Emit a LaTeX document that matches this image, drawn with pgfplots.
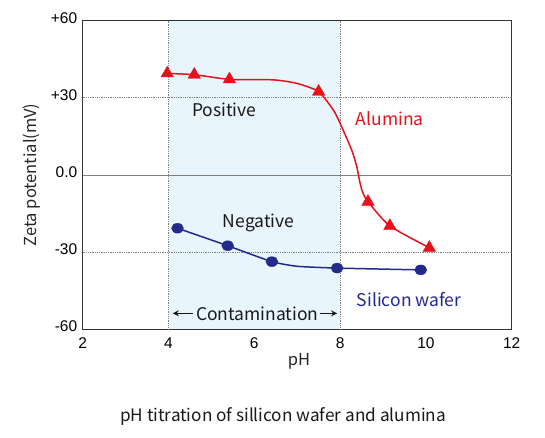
\documentclass[border=0pt]{standalone}
\usepackage{pgfplots}
\pgfplotsset{compat=1.18}
\usepackage{fontspec}
\setmainfont{Noto Sans CJK JP}
\newfontfamily\tickfont{Liberation Sans}
\usetikzlibrary{arrows.meta}
\definecolor{alred}{HTML}{E8101A}
\definecolor{sinavy}{HTML}{222A8C}
\definecolor{shade}{HTML}{E9F5FC}
\definecolor{gridc}{HTML}{808080}
\begin{document}
\begin{tikzpicture}
\useasboundingbox (0,0) rectangle (545bp,438bp);
\begin{axis}[at={(82.7bp,108.7bp)}, anchor=south west, scale only axis,
  width=429bp, height=308.6bp,
  xmin=2, xmax=12, ymin=-60, ymax=60,
  xtick={2,4,6,8,10,12}, ytick={-60,-30,0,30,60},
  yticklabels={-60,-30,0.0,+30,+60},
  major tick length=0pt, tick style={draw=none},
  axis line style={draw=black!80, line width=1.1pt},
  /pgf/number format/assume math mode=true,
  tick label style={font=\tickfont\fontsize{15.5bp}{15.5bp}\selectfont, text=black},
  xticklabel style={yshift=-5bp},
  yticklabel style={xshift=-2bp, yshift=3bp},
  xlabel={pH}, ylabel={Zeta potential(mV)},
  label style={font=\fontsize{16.5bp}{16.5bp}\selectfont, text=black!85},
  xlabel style={at={(axis description cs:0.504,-0.105)}, anchor=center},
  ylabel style={at={(axis description cs:-0.118,0.5)}, anchor=center},
  clip=false,
]
% shaded contamination band
\addplot[fill=shade, draw=none] coordinates {(4,-60) (4,60) (8,60) (8,-60)} -- cycle;
% grid lines
\addplot[gridc, densely dotted, line width=0.8pt] coordinates {(2,30) (12,30)};
\addplot[gridc, densely dotted, line width=0.8pt] coordinates {(2,-30) (12,-30)};
\addplot[gridc, line width=0.8pt] coordinates {(2,0) (12,0)};
\addplot[gridc, densely dotted, line width=0.8pt] coordinates {(4,-60) (4,60)};
\addplot[gridc, densely dotted, line width=0.8pt] coordinates {(8,-60) (8,60)};
% Alumina curve
\addplot[alred, line width=1.5pt, smooth, tension=0.4] coordinates {
 (3.97,39.5) (4.6,39) (5.42,37.2) (6.44,37) (7.0,35.6) (7.5,32.4) (7.84,25.3)
 (8.0,20.1) (8.27,9.7) (8.39,3.2) (8.45,-2) (8.52,-6.5) (8.65,-10.4)
 (9.16,-19.8) (10.08,-28.3)};
\addplot[only marks, mark=triangle*, mark size=7.2pt, color=alred] coordinates {
 (3.97,39.5) (4.6,39) (5.42,37.2) (7.5,32.4) (8.65,-10.4) (9.16,-19.8) (10.08,-28.3)};
% Silicon wafer curve
\addplot[sinavy, line width=1.5pt, smooth, tension=0.3] coordinates {
 (4.21,-20.7) (5.38,-27.5) (6.41,-33.7) (7.0,-35.5) (7.93,-36.2) (9.88,-36.9)};
\addplot[only marks, mark=*, mark size=5pt, mark options={xscale=1.2}, color=sinavy] coordinates {
 (4.21,-20.7) (5.38,-27.5) (6.41,-33.7) (7.93,-36.2) (9.88,-36.9)};
% annotations
\node[font=\fontsize{17.5bp}{17.5bp}\selectfont, text=black!90] at (axis cs:5.30,25.5) {Positive};
\node[font=\fontsize{17.5bp}{17.5bp}\selectfont, text=black!90] at (axis cs:6.10,-18.5) {Negative};
\node[font=\fontsize{17.5bp}{17.5bp}\selectfont, text=alred] at (axis cs:9.16,21.8) {Alumina};
\node[font=\fontsize{17.5bp}{17.5bp}\selectfont, text=sinavy] at (axis cs:9.61,-48.6) {Silicon wafer};
\node[font=\fontsize{17.5bp}{17.5bp}\selectfont, text=black!90] at (axis cs:6.07,-53.8) {Contamination};
\draw[-{Stealth[length=6bp,width=6bp]}, line width=1.3pt, black!90] (axis cs:4.56,-53.8) -- (axis cs:4.10,-53.8);
\draw[-{Stealth[length=6bp,width=6bp]}, line width=1.3pt, black!90] (axis cs:7.53,-53.8) -- (axis cs:7.93,-53.8);
\end{axis}
\node[font=\fontsize{17.2bp}{17.2bp}\selectfont, text=black!90, anchor=base] at (283bp,16.3bp) {pH titration of sillicon wafer and alumina};
\end{tikzpicture}
\end{document}
